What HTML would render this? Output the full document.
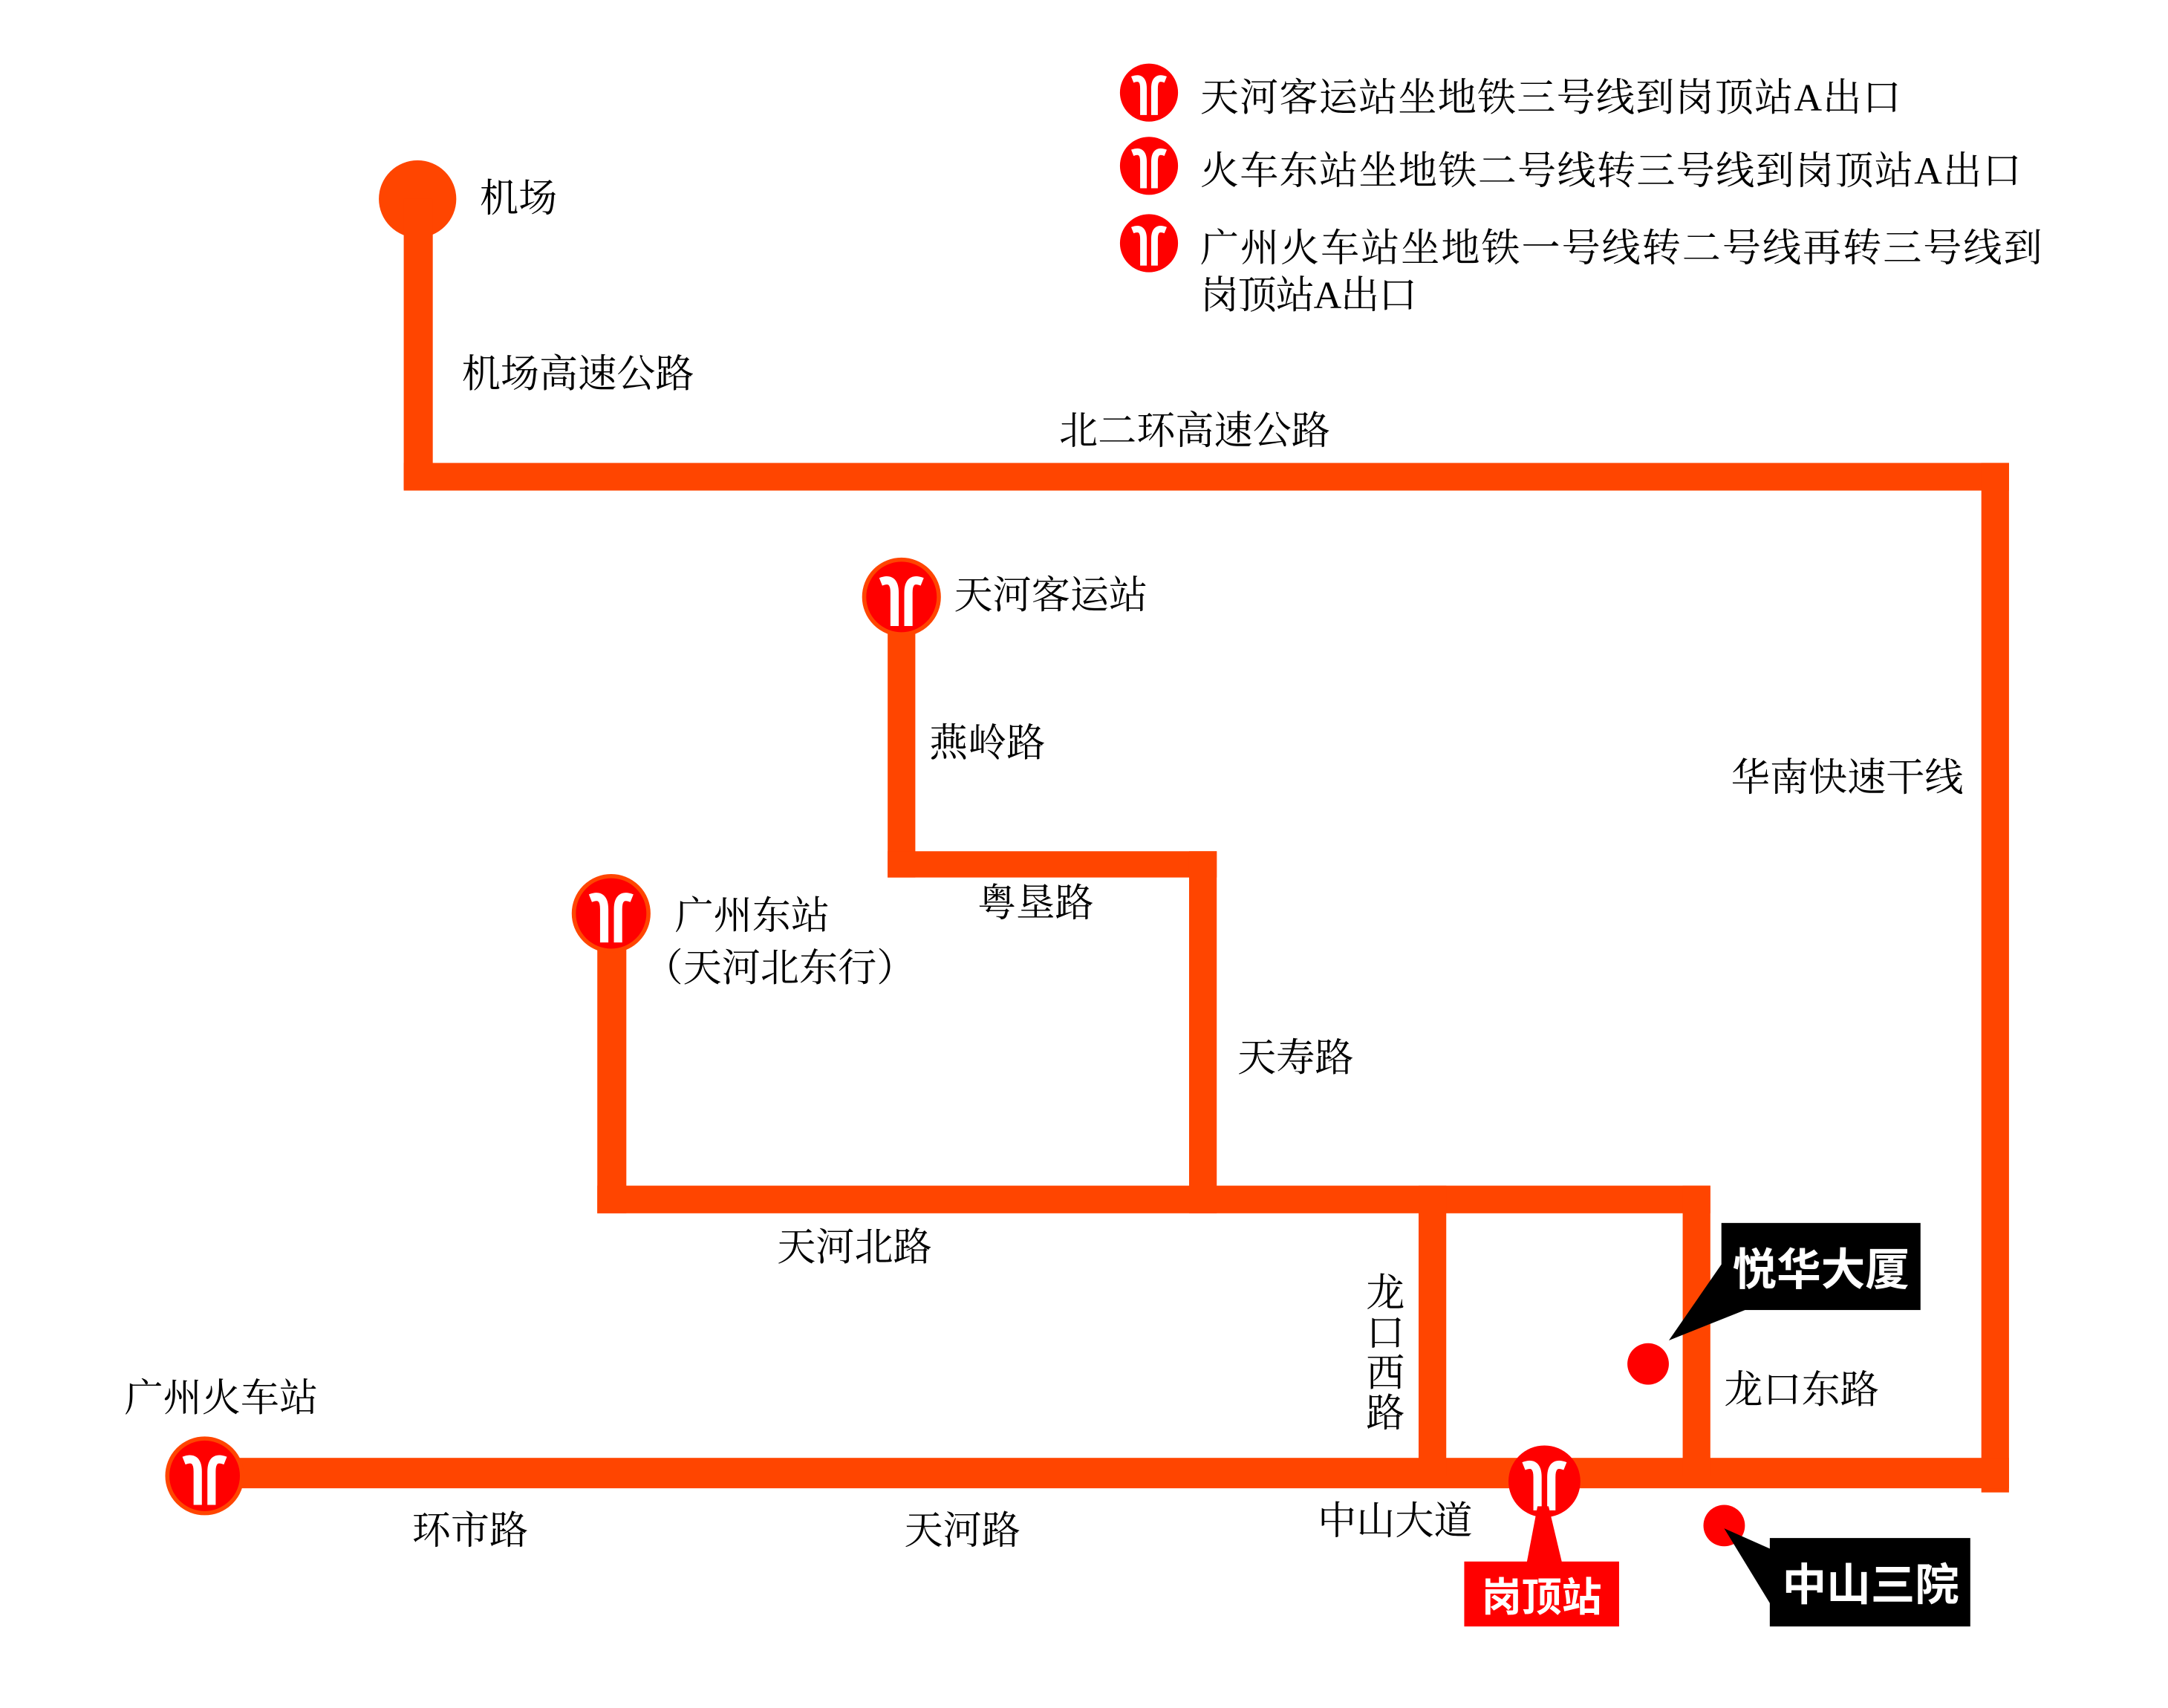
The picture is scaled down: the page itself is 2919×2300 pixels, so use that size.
<!DOCTYPE html>
<html><head><meta charset="utf-8"><style>
html,body{margin:0;padding:0;background:#fff;}
svg{display:block}
text{font-family:"Liberation Serif","Noto Serif CJK SC",serif;fill:#000;}
.b{font-family:"Liberation Sans","Noto Sans CJK SC",sans-serif;font-weight:bold;fill:#fff;}
</style></head><body>
<svg width="2919" height="2300" viewBox="0 0 1568 1236" preserveAspectRatio="none" xmlns="http://www.w3.org/2000/svg">
<defs>
<g id="m">
<path d="M-15,-13 Q-5,-17 -5,-5 L-5,19" stroke="#fff" stroke-width="6" fill="none"/>
<path d="M15,-13 Q5,-17 5,-5 L5,19" stroke="#fff" stroke-width="6" fill="none"/>
</g>
</defs>
<g fill="#ff4500">
<circle cx="302" cy="144" r="28"/>
<rect x="292" y="144" width="21" height="210"/>
<rect x="292" y="335" width="1161" height="20"/>
<rect x="1433" y="335" width="20" height="745"/>
<rect x="150" y="1055" width="1303" height="22"/>
<rect x="642" y="432" width="20" height="203"/>
<rect x="642" y="616" width="238" height="19"/>
<rect x="860" y="616" width="20" height="262"/>
<rect x="432" y="661" width="21" height="217"/>
<rect x="432" y="858" width="805" height="20"/>
<rect x="1026" y="858" width="20" height="210"/>
<rect x="1217" y="858" width="20" height="210"/>
</g>
<g>
<circle cx="652" cy="432" r="27" fill="#f00" stroke="#ff4500" stroke-width="3"/><use href="#m" x="652" y="434"/>
<circle cx="442" cy="661" r="27" fill="#f00" stroke="#ff4500" stroke-width="3"/><use href="#m" x="442" y="663"/>
<circle cx="148" cy="1068" r="27" fill="#f00" stroke="#ff4500" stroke-width="3"/><use href="#m" x="148" y="1070"/>
<circle cx="1117" cy="1072" r="26" fill="#f00"/><use href="#m" x="1117" y="1074"/>
<circle cx="831" cy="67" r="21" fill="#f00"/><use href="#m" x="831" y="68" transform="translate(831 68) scale(0.8) translate(-831 -68)"/>
<circle cx="831" cy="120" r="21" fill="#f00"/><use href="#m" x="831" y="121" transform="translate(831 121) scale(0.8) translate(-831 -121)"/>
<circle cx="831" cy="176" r="21" fill="#f00"/><use href="#m" x="831" y="177" transform="translate(831 177) scale(0.8) translate(-831 -177)"/>
</g>
<polygon points="1112,1090 1104,1132 1130,1132 1120,1090" fill="#f00"/>
<rect x="1059" y="1130" width="112" height="47" fill="#f00"/>
<text class="b" x="1115" y="1166" font-size="29" text-anchor="middle">岗顶站</text>
<circle cx="1192" cy="987" r="15" fill="#f00"/>
<polygon points="1245,915 1207,970 1262,948" fill="#000"/>
<rect x="1245" y="885" width="144" height="63" fill="#000"/>
<text class="b" x="1317" y="930" font-size="32" text-anchor="middle">悦华大厦</text>
<circle cx="1247" cy="1104" r="15" fill="#f00"/>
<polygon points="1247,1106 1283,1122 1283,1165" fill="#000"/>
<rect x="1280" y="1113" width="145" height="64" fill="#000"/>
<text class="b" x="1353" y="1158" font-size="32" text-anchor="middle">中山三院</text>
<g font-size="28">
<text x="868" y="80" textLength="507">天河客运站坐地铁三号线到岗顶站A出口</text>
<text x="868" y="133" textLength="594">火车东站坐地铁二号线转三号线到岗顶站A出口</text>
<text x="868" y="189" textLength="609">广州火车站坐地铁一号线转二号线再转三号线到</text>
<text x="868" y="223" textLength="157">岗顶站A出口</text>
</g>
<g font-size="28">
<text x="347" y="153">机场</text>
<text x="334" y="280">机场高速公路</text>
<text x="766" y="321">北二环高速公路</text>
<text x="690" y="440">天河客运站</text>
<text x="672" y="547">燕岭路</text>
<text x="707" y="663">粤垦路</text>
<text x="488" y="672">广州东站</text>
<text x="466" y="710">（天河北东行）</text>
<text x="895" y="775">天寿路</text>
<text x="1252" y="572">华南快速干线</text>
<text x="562" y="912">天河北路</text>
<text x="988" y="945">龙</text>
<text x="988" y="974">口</text>
<text x="988" y="1003">西</text>
<text x="988" y="1032">路</text>
<text x="1247" y="1015">龙口东路</text>
<text x="90" y="1021">广州火车站</text>
<text x="298" y="1117">环市路</text>
<text x="654" y="1117">天河路</text>
<text x="953" y="1110">中山大道</text>
</g>
</svg>
</body></html>
